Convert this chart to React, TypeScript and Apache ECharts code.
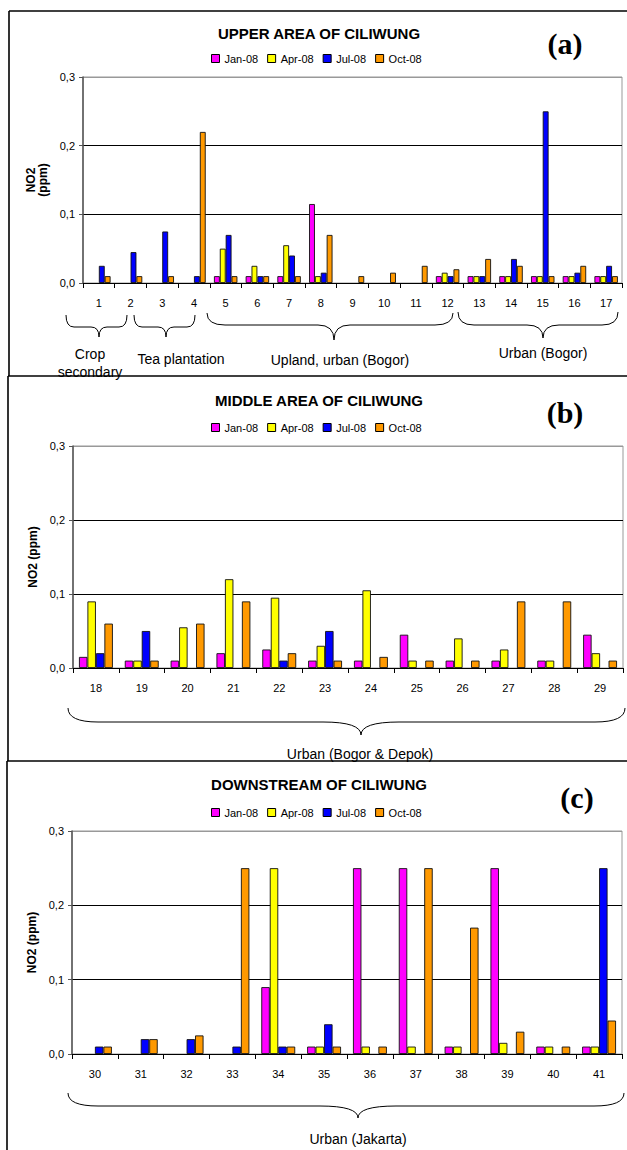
import React, { useEffect, useRef } from 'react';
import * as echarts from 'echarts';

// ---------- DATA ----------
const seriesNames = ['Jan-08', 'Apr-08', 'Jul-08', 'Oct-08'];
const seriesColors = ['#FF00FF', '#FFFF00', '#0000FF', '#FF9900'];

const catsA = ['1', '2', '3', '4', '5', '6', '7', '8', '9', '10', '11', '12', '13', '14', '15', '16', '17'];
const janA = [null, null, null, null, 0.01, 0.01, 0.01, 0.115, null, null, null, 0.01, 0.01, 0.01, 0.01, 0.01, 0.01];
const aprA = [null, null, null, null, 0.05, 0.025, 0.055, 0.01, null, null, null, 0.015, 0.01, 0.01, 0.01, 0.01, 0.01];
const julA = [0.025, 0.045, 0.075, 0.01, 0.07, 0.01, 0.04, 0.015, null, null, null, 0.01, 0.01, 0.035, 0.25, 0.015, 0.025];
const octA = [0.01, 0.01, 0.01, 0.22, 0.01, 0.01, 0.01, 0.07, 0.01, 0.015, 0.025, 0.02, 0.035, 0.025, 0.01, 0.025, 0.01];

const catsB = ['18', '19', '20', '21', '22', '23', '24', '25', '26', '27', '28', '29'];
const janB = [0.015, 0.01, 0.01, 0.02, 0.025, 0.01, 0.01, 0.045, 0.01, 0.01, 0.01, 0.045];
const aprB = [0.09, 0.01, 0.055, 0.12, 0.095, 0.03, 0.105, 0.01, 0.04, 0.025, 0.01, 0.02];
const julB = [0.02, 0.05, null, null, 0.01, 0.05, null, null, null, null, null, null];
const octB = [0.06, 0.01, 0.06, 0.09, 0.02, 0.01, 0.015, 0.01, 0.01, 0.09, 0.09, 0.01];

const catsC = ['30', '31', '32', '33', '34', '35', '36', '37', '38', '39', '40', '41'];
const janC = [null, null, null, null, 0.09, 0.01, 0.25, 0.25, 0.01, 0.25, 0.01, 0.01];
const aprC = [null, null, null, null, 0.25, 0.01, 0.01, 0.01, 0.01, 0.015, 0.01, 0.01];
const julC = [0.01, 0.02, 0.02, 0.01, 0.01, 0.04, null, null, null, null, null, 0.25];
const octC = [0.01, 0.02, 0.025, 0.25, 0.01, 0.01, 0.01, 0.25, 0.17, 0.03, 0.01, 0.045];

const yMin = 0;
const yMax = 0.3;
const yStep = 0.1;

const panelTitles = ['UPPER AREA OF CILIWUNG', 'MIDDLE AREA OF CILIWUNG', 'DOWNSTREAM OF CILIWUNG'];
const panelLetters = ['(a)', '(b)', '(c)'];
const yAxisNames = ['NO2\n(ppm)', 'NO2 (ppm)', 'NO2 (ppm)'];
const groupLabelsA = ['Crop\nsecondary', 'Tea plantation', 'Upland, urban (Bogor)', 'Urban (Bogor)'];
const groupLabelB = 'Urban (Bogor & Depok)';
const groupLabelC = 'Urban (Jakarta)';

// ---------- LAYOUT ----------
const FONT = '"Liberation Sans", Arial, sans-serif';
const SERIF = '"Liberation Serif", "Times New Roman", serif';

const panels = [
  { cats: catsA, values: [janA, aprA, julA, octA], grid: { left: 83, top: 77, width: 539, height: 206 }, nameGap: 27, legendTop: 53, titleY: 33, letterX: 565, letterY: 43 },
  { cats: catsB, values: [janB, aprB, julB, octB], grid: { left: 73, top: 446, width: 550, height: 222 }, nameGap: 31, legendTop: 422, titleY: 400, letterX: 565, letterY: 412 },
  { cats: catsC, values: [janC, aprC, julC, octC], grid: { left: 72, top: 831, width: 550, height: 223 }, nameGap: 32, legendTop: 807, titleY: 784, letterX: 577, letterY: 797 },
];

const fmt = (v: number) => v.toFixed(1).replace('.', ',');

function brace(x1: number, x2: number, xm: number, yTop: number, yMid: number, yTip: number, rEnd: number, rMid: number) {
  const st = { stroke: '#000', lineWidth: 1, fill: null as any };
  return [
    { type: 'bezierCurve', shape: { x1: x1, y1: yTop, cpx1: x1, cpy1: yMid, x2: x1 + rEnd, y2: yMid }, style: st },
    { type: 'line', shape: { x1: x1 + rEnd, y1: yMid, x2: xm - rMid, y2: yMid }, style: st },
    { type: 'bezierCurve', shape: { x1: xm - rMid, y1: yMid, cpx1: xm, cpy1: yMid, x2: xm, y2: yTip }, style: st },
    { type: 'bezierCurve', shape: { x1: xm + rMid, y1: yMid, cpx1: xm, cpy1: yMid, x2: xm, y2: yTip }, style: st },
    { type: 'line', shape: { x1: xm + rMid, y1: yMid, x2: x2 - rEnd, y2: yMid }, style: st },
    { type: 'bezierCurve', shape: { x1: x2 - rEnd, y1: yMid, cpx1: x2, cpy1: yMid, x2: x2, y2: yTop }, style: st },
  ];
}

function label(text: string, x: number, y: number, size: number, opts: any = {}) {
  return {
    type: 'text',
    x,
    y,
    z: 50,
    style: {
      text,
      fontSize: size,
      fontFamily: opts.family || FONT,
      fontWeight: opts.weight || 'normal',
      fill: '#000',
      align: 'center',
      verticalAlign: 'middle',
      textAlign: 'center',
      textVerticalAlign: 'middle',
      lineHeight: opts.lineHeight,
    },
  };
}

function frameLine(x1: number, y1: number, x2: number, y2: number) {
  return { type: 'line', z: 100, shape: { x1, y1, x2, y2 }, style: { stroke: '#000', lineWidth: 1.6 } };
}

function buildOption() {
  const grid = panels.map((p) => ({ ...p.grid, show: true, borderColor: '#999', borderWidth: 1, backgroundColor: '#fff' }));

  const xAxis = panels.map((p, i) => ({
    type: 'category',
    gridIndex: i,
    data: p.cats,
    axisLine: { show: true, lineStyle: { color: '#000', width: 1 } },
    axisTick: { show: true, length: 5, lineStyle: { color: '#000' } },
    axisLabel: { interval: 0, fontSize: 11, color: '#000', fontFamily: FONT, margin: 14 },
    splitLine: { show: false },
  }));

  const yAxis = panels.map((p, i) => ({
    type: 'value',
    gridIndex: i,
    min: yMin,
    max: yMax,
    interval: yStep,
    name: yAxisNames[i],
    nameLocation: 'middle',
    nameGap: p.nameGap,
    nameTextStyle: { fontSize: 12, fontWeight: 'bold', color: '#000', fontFamily: FONT, lineHeight: 12 },
    axisLine: { show: true, lineStyle: { color: '#555', width: 1.5 } },
    axisTick: { show: true, length: 4, lineStyle: { color: '#555' } },
    axisLabel: { fontSize: 11, color: '#000', fontFamily: FONT, margin: 8, formatter: (v: number) => fmt(v) },
    splitLine: { show: true, lineStyle: { color: ['#000', '#000', '#000', '#999'], width: 1 } },
  }));

  const series: any[] = [];
  panels.forEach((p, i) => {
    seriesNames.forEach((name, s) => {
      series.push({
        type: 'bar',
        name,
        xAxisIndex: i,
        yAxisIndex: i,
        data: p.values[s],
        barGap: '0%',
        barCategoryGap: '26%',
        itemStyle: { color: seriesColors[s], borderColor: '#111', borderWidth: 0.9 },
      });
    });
  });

  const legend = panels.map((p) => ({
    data: seriesNames,
    left: 211,
    top: p.legendTop,
    padding: 0,
    itemWidth: 8,
    itemHeight: 8,
    itemGap: 9,
    icon: 'rect',
    itemStyle: { borderColor: '#000', borderWidth: 1 },
    textStyle: { fontSize: 11, color: '#000', fontFamily: FONT },
  }));

  const graphic: any[] = [];
  panels.forEach((p, i) => {
    graphic.push(label(panelTitles[i], 319, p.titleY, 15, { weight: 'bold' }));
    graphic.push(label(panelLetters[i], p.letterX, p.letterY, 30, { weight: 'bold', family: SERIF }));
  });

  // Panel (a) group braces and labels
  graphic.push(...brace(66, 127, 99, 315, 327, 337, 8, 8));
  graphic.push(...brace(134, 195, 166, 315, 327, 337, 8, 8));
  graphic.push(...brace(207, 453, 334, 313, 325, 340, 18, 16));
  graphic.push(...brace(458, 618, 543, 312, 325, 338, 16, 16));
  graphic.push(label(groupLabelsA[0], 90, 363, 14, { lineHeight: 18 }));
  graphic.push(label(groupLabelsA[1], 181, 359, 14));
  graphic.push(label(groupLabelsA[2], 340, 360, 14));
  graphic.push(label(groupLabelsA[3], 543, 353, 14));

  // Panel (b)
  graphic.push(...brace(68, 625, 361, 708, 722, 735, 30, 38));
  graphic.push(label(groupLabelB, 360, 754, 14));

  // Panel (c)
  graphic.push(...brace(68, 624, 358, 1093, 1106, 1118, 30, 38));
  graphic.push(label(groupLabelC, 358, 1139, 14));

  // Panel frames
  graphic.push(frameLine(9, 11, 640, 11));
  graphic.push(frameLine(9, 11, 9, 376));
  graphic.push(frameLine(8, 376, 640, 376));
  graphic.push(frameLine(8, 376, 8, 761));
  graphic.push(frameLine(7, 761, 640, 761));
  graphic.push(frameLine(7, 761, 7, 1160));

  return {
    animation: false,
    backgroundColor: '#fff',
    textStyle: { fontFamily: FONT },
    grid,
    xAxis,
    yAxis,
    legend,
    series,
    graphic,
  };
}

export default function App() {
  const ref = useRef<HTMLDivElement>(null);
  useEffect(() => {
    if (!ref.current) return;
    const chart = echarts.init(ref.current, null, { renderer: 'svg' });
    chart.setOption(buildOption() as any);
    return () => chart.dispose();
  }, []);
  return (
    <div
      ref={ref}
      style={{ position: 'absolute', left: 0, top: 0, width: 627, height: 1150, background: '#fff' }}
    />
  );
}
